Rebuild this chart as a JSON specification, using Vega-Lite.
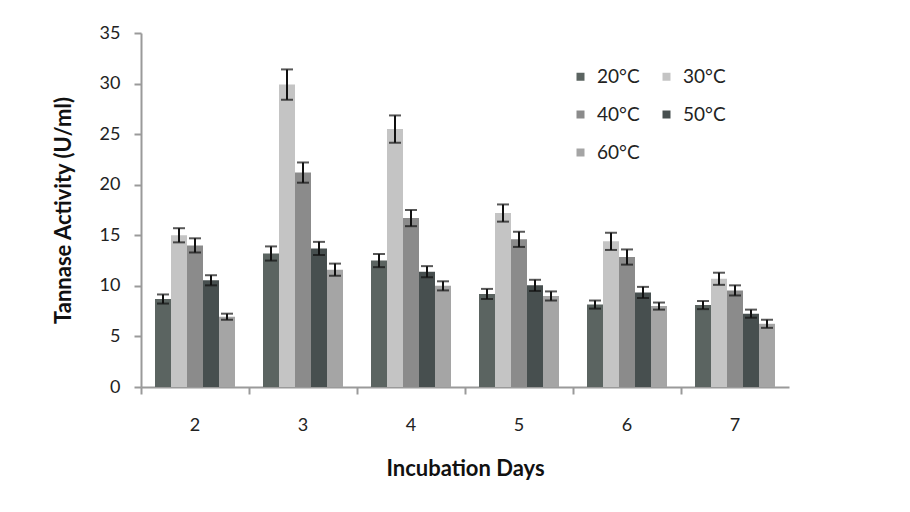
{
  "$schema": "https://vega.github.io/schema/vega-lite/v6.json",
  "width": 648,
  "height": 354,
  "autosize": {"type": "none"},
  "padding": {"left": 141, "top": 33, "right": 121, "bottom": 125},
  "background": "white",
  "config": {
    "font": "Lato",
    "view": {"stroke": null},
    "axis": {"domainColor": "#9a9a9a", "domainWidth": 2, "tickColor": "#9a9a9a", "tickWidth": 2, "tickSize": 7, "labelColor": "#222222", "titleColor": "#111111", "labelFont": "Lato", "titleFont": "Lato", "labelFontSize": 18, "titleFontSize": 22, "titleFontWeight": "bold", "grid": false}
  },
  "data": {
    "values": [
      {"day": "2", "temp": "20°C", "value": 8.7, "lo": 8.25, "hi": 9.15},
      {"day": "2", "temp": "30°C", "value": 15.0, "lo": 14.3, "hi": 15.7},
      {"day": "2", "temp": "40°C", "value": 14.0, "lo": 13.3, "hi": 14.7},
      {"day": "2", "temp": "50°C", "value": 10.55, "lo": 10.05, "hi": 11.05},
      {"day": "2", "temp": "60°C", "value": 6.95, "lo": 6.65, "hi": 7.25},
      {"day": "3", "temp": "20°C", "value": 13.2, "lo": 12.5, "hi": 13.9},
      {"day": "3", "temp": "30°C", "value": 29.9, "lo": 28.4, "hi": 31.4},
      {"day": "3", "temp": "40°C", "value": 21.2, "lo": 20.2, "hi": 22.2},
      {"day": "3", "temp": "50°C", "value": 13.7, "lo": 13.05, "hi": 14.35},
      {"day": "3", "temp": "60°C", "value": 11.6, "lo": 11.0, "hi": 12.2},
      {"day": "4", "temp": "20°C", "value": 12.5, "lo": 11.85, "hi": 13.15},
      {"day": "4", "temp": "30°C", "value": 25.5, "lo": 24.15, "hi": 26.85},
      {"day": "4", "temp": "40°C", "value": 16.7, "lo": 15.9, "hi": 17.5},
      {"day": "4", "temp": "50°C", "value": 11.4, "lo": 10.85, "hi": 11.95},
      {"day": "4", "temp": "60°C", "value": 10.0, "lo": 9.55, "hi": 10.45},
      {"day": "5", "temp": "20°C", "value": 9.2, "lo": 8.7, "hi": 9.7},
      {"day": "5", "temp": "30°C", "value": 17.2, "lo": 16.35, "hi": 18.05},
      {"day": "5", "temp": "40°C", "value": 14.6, "lo": 13.85, "hi": 15.35},
      {"day": "5", "temp": "50°C", "value": 10.05, "lo": 9.5, "hi": 10.6},
      {"day": "5", "temp": "60°C", "value": 9.0, "lo": 8.55, "hi": 9.45},
      {"day": "6", "temp": "20°C", "value": 8.15, "lo": 7.75, "hi": 8.55},
      {"day": "6", "temp": "30°C", "value": 14.4, "lo": 13.55, "hi": 15.25},
      {"day": "6", "temp": "40°C", "value": 12.85, "lo": 12.1, "hi": 13.6},
      {"day": "6", "temp": "50°C", "value": 9.35, "lo": 8.8, "hi": 9.9},
      {"day": "6", "temp": "60°C", "value": 8.0, "lo": 7.65, "hi": 8.35},
      {"day": "7", "temp": "20°C", "value": 8.1, "lo": 7.7, "hi": 8.5},
      {"day": "7", "temp": "30°C", "value": 10.7, "lo": 10.1, "hi": 11.3},
      {"day": "7", "temp": "40°C", "value": 9.55, "lo": 9.05, "hi": 10.05},
      {"day": "7", "temp": "50°C", "value": 7.25, "lo": 6.85, "hi": 7.65},
      {"day": "7", "temp": "60°C", "value": 6.25, "lo": 5.85, "hi": 6.65}
    ]
  },
  "encoding": {
    "x": {
      "field": "day", "type": "nominal",
      "scale": {"paddingInner": 0, "paddingOuter": 0},
      "axis": {"title": "Incubation Days", "labelAngle": 0, "bandPosition": 0, "labelPadding": 22, "titlePadding": 24}
    },
    "xOffset": {
      "field": "temp", "type": "nominal",
      "scale": {"domain": ["20°C", "30°C", "40°C", "50°C", "60°C"], "paddingInner": 0, "paddingOuter": 0.875}
    }
  },
  "layer": [
    {
      "mark": {"type": "bar"},
      "encoding": {
        "y": {
          "field": "value", "type": "quantitative",
          "scale": {"domain": [0, 35], "nice": false},
          "axis": {"title": "Tannase Activity (U/ml)", "values": [0, 5, 10, 15, 20, 25, 30, 35], "labelPadding": 14, "titlePadding": 24}
        },
        "color": {
          "field": "temp", "type": "nominal",
          "scale": {"domain": ["20°C", "40°C", "60°C", "30°C", "50°C"], "range": ["#5b6461", "#8b8b8b", "#a5a5a5", "#c4c4c4", "#474f4f"]},
          "legend": {
            "title": null, "orient": "none", "legendX": 430, "legendY": 34, "columns": 2,
            "symbolType": "square", "symbolSize": 64, "symbolStrokeWidth": 0,
            "labelFont": "Lato", "labelFontSize": 19, "labelColor": "#222222", "labelOffset": 7,
            "rowPadding": 18, "columnPadding": 17, "padding": 0
          }
        }
      }
    },
    {
      "mark": {"type": "rule", "color": "#111111", "strokeWidth": 2},
      "encoding": {
        "y": {"field": "lo", "type": "quantitative"},
        "y2": {"field": "hi"}
      }
    },
    {
      "mark": {"type": "tick", "color": "#111111", "thickness": 2, "size": 12, "orient": "horizontal"},
      "encoding": {"y": {"field": "lo", "type": "quantitative"}}
    },
    {
      "mark": {"type": "tick", "color": "#111111", "thickness": 2, "size": 12, "orient": "horizontal"},
      "encoding": {"y": {"field": "hi", "type": "quantitative"}}
    }
  ]
}
